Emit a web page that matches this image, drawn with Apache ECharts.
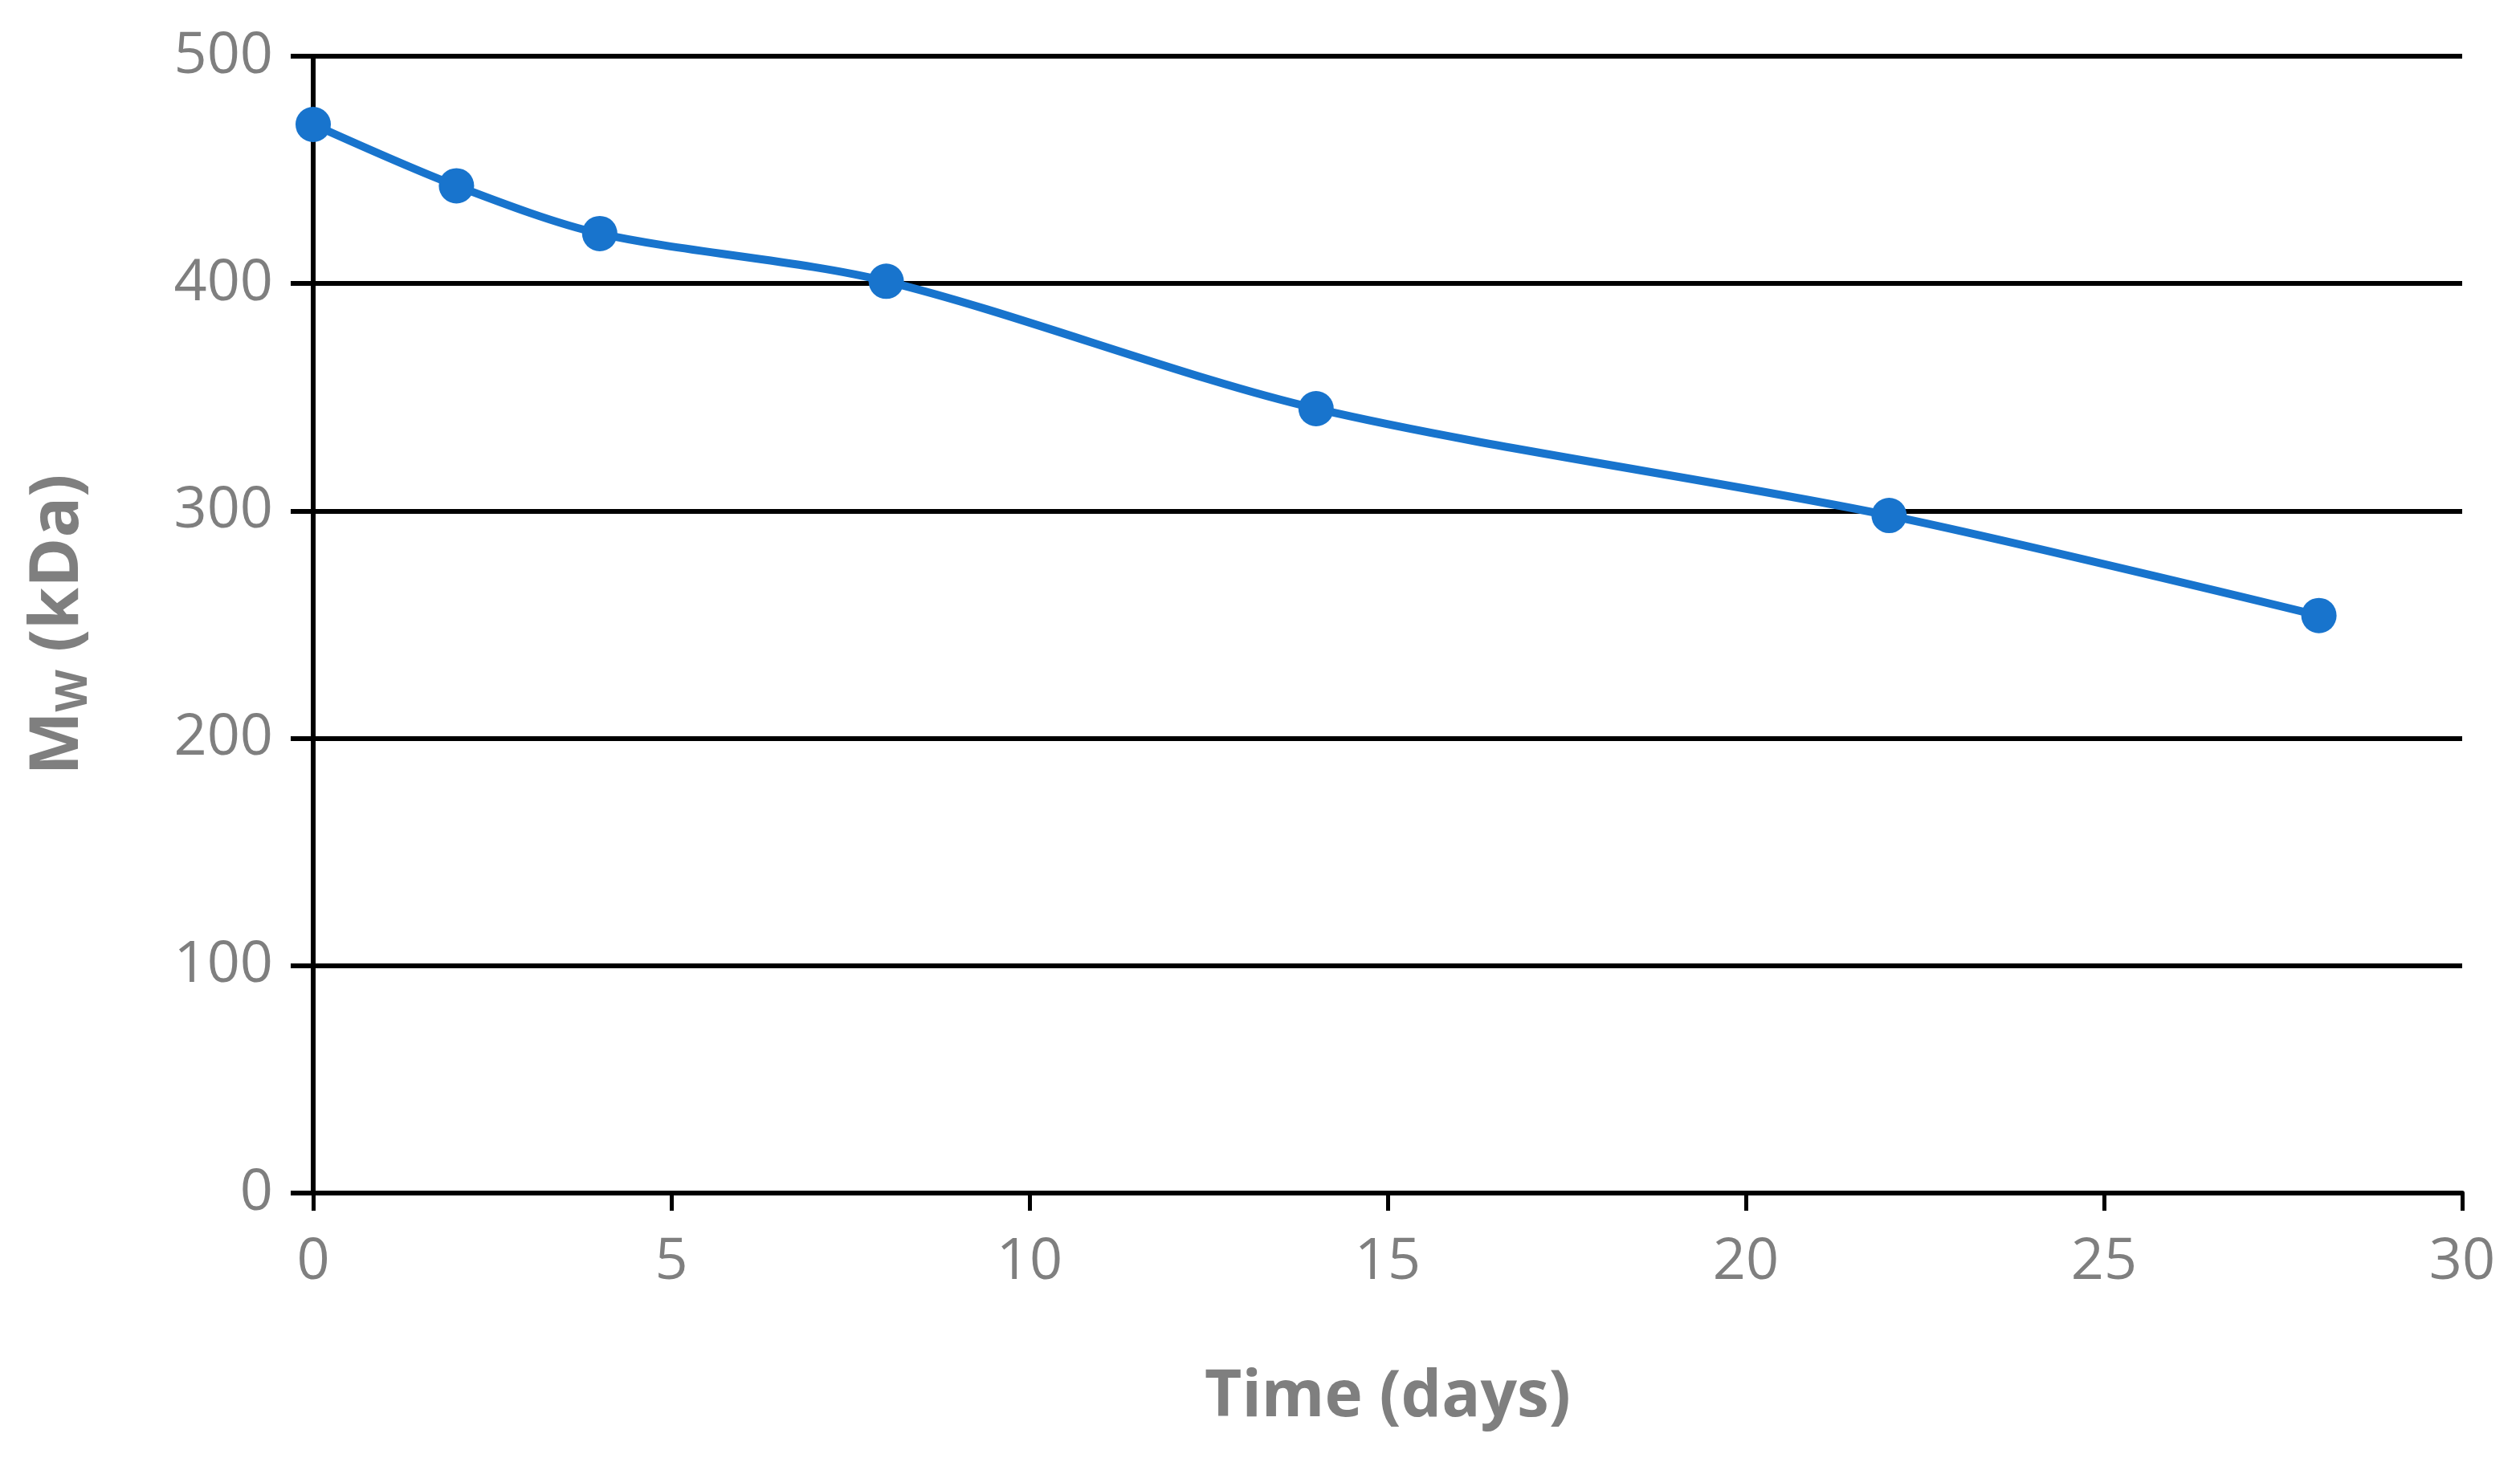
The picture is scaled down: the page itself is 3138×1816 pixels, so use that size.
<!DOCTYPE html>
<html>
<head>
<meta charset="utf-8">
<script src="https://cdn.jsdelivr.net/npm/echarts@6/dist/echarts.min.js"></script>
<style>html,body{margin:0;padding:0;background:#fff}#chart{width:3138px;height:1816px}</style>
</head>
<body>
<div id="chart"></div>
<script>
// data
var days = [0, 2, 4, 8, 14, 22, 28];
var mw = [470, 443, 422, 401, 345, 298, 254];

var points = days.map(function (d, i) { return [d, mw[i]]; });
var grey = '#7f7f7f';

var myChart = echarts.init(document.getElementById('chart'));
var option = {
    backgroundColor: '#fff',
    grid: { left: 390, right: 72, top: 70, bottom: 330 },
    xAxis: {
        type: 'value', min: 0, max: 30, interval: 5,
        name: 'Time (days)', nameLocation: 'middle', nameGap: 215,
        nameTextStyle: { color: grey, fontSize: 80, fontWeight: 'bold', fontFamily: 'Open Sans' },
        axisLine: { lineStyle: { color: '#000', width: 6 } },
        axisTick: { show: true, length: 22, lineStyle: { color: '#000', width: 5 } },
        axisLabel: { color: grey, fontSize: 72, margin: 50, fontFamily: 'Open Sans' },
        splitLine: { show: false }
    },
    yAxis: {
        type: 'value', min: 0, max: 500, interval: 100,
        name: '{m|M}{s|W}{m| (kDa)}', nameLocation: 'middle', nameGap: 270,
        nameTextStyle: {
            rich: {
                m: { color: grey, fontSize: 84, fontWeight: 'bold', fontFamily: 'Open Sans' },
                s: { color: grey, fontSize: 54, fontWeight: 'bold', fontFamily: 'Open Sans', verticalAlign: 'bottom', padding: [40, 0, 0, 0] }
            }
        },
        axisLine: { show: true, lineStyle: { color: '#000', width: 6 } },
        axisTick: { show: true, length: 28, lineStyle: { color: '#000', width: 6 } },
        axisLabel: { color: grey, fontSize: 72, margin: 50, fontFamily: 'Open Sans' },
        splitLine: { show: true, lineStyle: { color: '#000', width: 6 } }
    },
    series: [{
        type: 'line',
        data: points,
        smooth: 0.3,
        symbol: 'circle',
        symbolSize: 44,
        lineStyle: { color: '#1874CD', width: 10 },
        itemStyle: { color: '#1874CD' }
    }]
};
myChart.setOption(option);
</script>
</body>
</html>
